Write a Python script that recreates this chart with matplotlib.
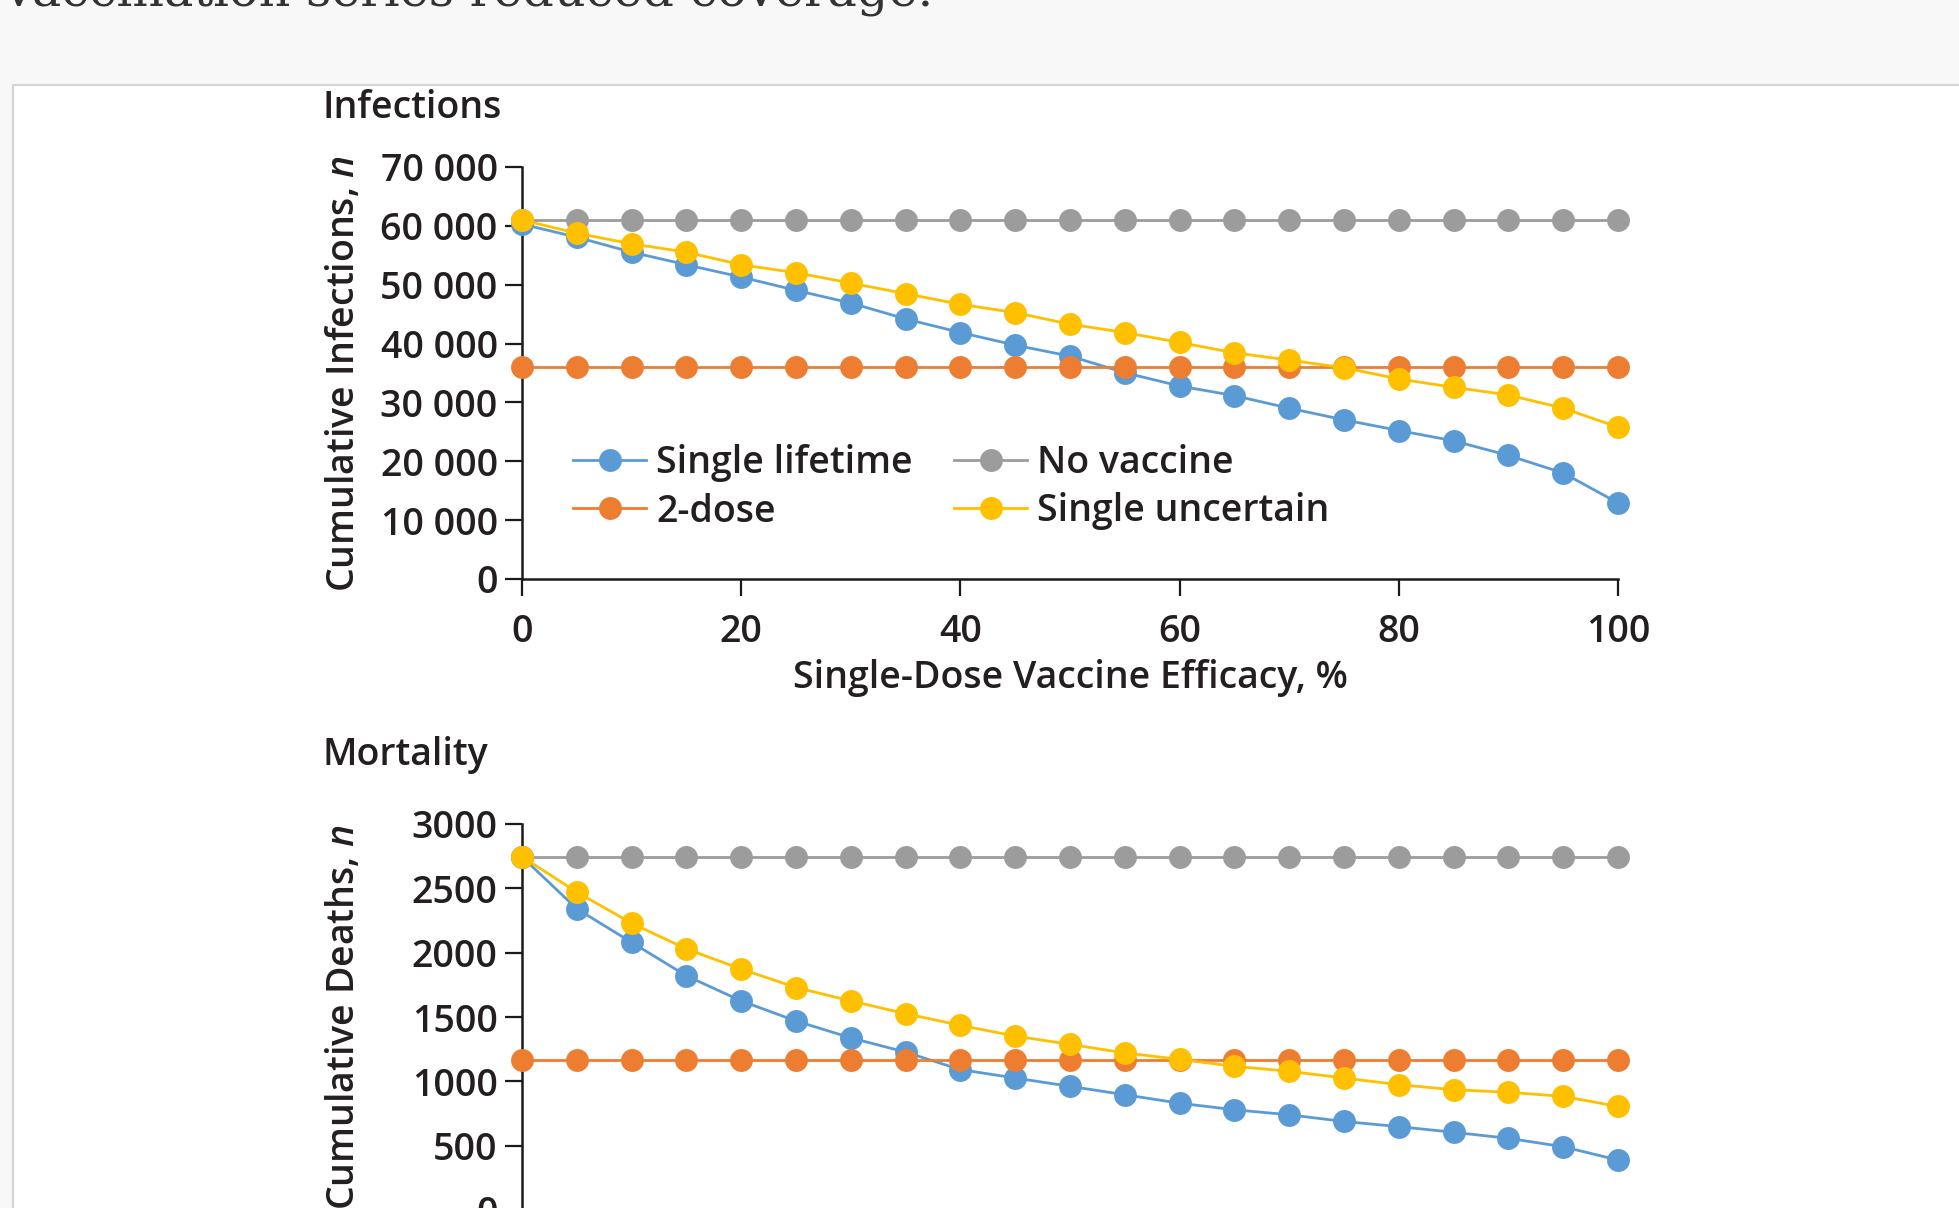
import matplotlib
matplotlib.use("Agg")
import matplotlib.pyplot as plt
import matplotlib.font_manager as fm
from matplotlib.patches import Rectangle

# ---------------- data ----------------
efficacy = [0, 5, 10, 15, 20, 25, 30, 35, 40, 45, 50, 55, 60, 65, 70, 75, 80, 85, 90, 95, 100]

inf_single_lifetime = [60300, 58070, 55530, 53390, 51300, 49040, 46890, 44190, 41880, 39730, 37870,
                       35050, 32790, 31150, 29020, 27040, 25230, 23480, 20990, 18010, 12930]
inf_two_dose = [36000] * 21
inf_no_vaccine = [61000] * 21
inf_single_uncertain = [61000, 58750, 56950, 55530, 53390, 52040, 50280, 48480, 46670, 45260, 43290,
                        41880, 40190, 38430, 37190, 35890, 33980, 32570, 31270, 29020, 25800]

dth_single_lifetime = [2745, 2341, 2080, 1820, 1625, 1469, 1338, 1227, 1091, 1026, 961,
                       896, 830, 779, 740, 688, 648, 604, 557, 492, 388]
dth_two_dose = [1162] * 21
dth_no_vaccine = [2745] * 21
dth_single_uncertain = [2745, 2471, 2229, 2029, 1873, 1729, 1625, 1526, 1435, 1352, 1287,
                        1221, 1170, 1117, 1078, 1026, 974, 935, 915, 883, 805]

series_labels = ["Single lifetime", "2-dose", "No vaccine", "Single uncertain"]
series_colors = ["#5b9bd5", "#ed7d31", "#9c9c9c", "#ffc000"]

x_ticks = [0, 20, 40, 60, 80, 100]
inf_ticks = [0, 10000, 20000, 30000, 40000, 50000, 60000, 70000]
inf_tick_labels = ["0", "10 000", "20 000", "30 000", "40 000", "50 000", "60 000", "70 000"]
dth_ticks = [0, 500, 1000, 1500, 2000, 2500, 3000]
dth_tick_labels = ["0", "500", "1000", "1500", "2000", "2500", "3000"]

page_text = "vaccination series reduced coverage."
title_top = "Infections"
title_bottom = "Mortality"
xlabel = "Single-Dose Vaccine Efficacy, %"
ylabel_top = "Cumulative Infections, $n$"
ylabel_bottom = "Cumulative Deaths, $n$"

# ---------------- style ----------------
avail = {f.name for f in fm.fontManager.ttflist}
SANS = "Open Sans" if "Open Sans" in avail else "DejaVu Sans"
weights = {f.weight for f in fm.fontManager.ttflist if f.name == SANS}
if 600 in weights or "semibold" in weights or "demibold" in weights:
    WEIGHT, FS = 600, 27
else:
    WEIGHT, FS = "normal", 28
plt.rcParams["font.family"] = [SANS, "DejaVu Sans"]
plt.rcParams["font.weight"] = WEIGHT
plt.rcParams["axes.labelweight"] = WEIGHT
plt.rcParams["mathtext.fontset"] = "custom"
plt.rcParams["mathtext.rm"] = SANS
plt.rcParams["mathtext.it"] = SANS + ":italic"

W, H = 1959, 1208
TXT = "#231f20"

fig = plt.figure(figsize=(W / 100, H / 100), dpi=100, facecolor="#f8f8f8")

# card
fig.patches.append(Rectangle((13 / W, -0.05), 1.1, 1 - 85 / H + 0.05, transform=fig.transFigure,
                             facecolor="white", edgecolor="#d5d5d5", lw=1.6, zorder=-10))

fig.text(4 / W, 1 - 5 / H, page_text, family="DejaVu Serif", fontsize=35.5, fontweight="normal",
         va="baseline", ha="left", color="#333333")

def px_axes(left, top, right, bottom):
    return [left / W, 1 - bottom / H, (right - left) / W, (bottom - top) / H]

ax1 = fig.add_axes(px_axes(522, 167, 1618, 579))
ax2 = fig.add_axes(px_axes(522, 824, 1618, 1210))

def style_axes(ax, yticks, ylabels, ylim, ylabel):
    ax.patch.set_visible(False)
    for s in ["top", "right"]:
        ax.spines[s].set_visible(False)
    for s in ["left", "bottom"]:
        ax.spines[s].set_linewidth(1.8)
        ax.spines[s].set_color("#1a1a1a")
    ax.set_xlim(0, 100)
    ax.set_ylim(*ylim)
    ax.set_xticks(x_ticks)
    ax.set_yticks(yticks)
    ax.set_yticklabels(ylabels)
    ax.tick_params(axis="both", direction="out", length=12, width=1.6, color="#1a1a1a",
                   labelsize=FS, labelcolor=TXT)
    ax.tick_params(axis="y", pad=5.5)
    ax.tick_params(axis="x", pad=12.5)
    ax.set_ylabel(ylabel, fontsize=FS, color=TXT)
    ax.yaxis.set_label_coords(-0.145, 0.5)

style_axes(ax1, inf_ticks, inf_tick_labels, (0, 70000), ylabel_top)
style_axes(ax2, dth_ticks, dth_tick_labels, (0, 3000), ylabel_bottom)
ax1.set_xlabel(xlabel, fontsize=FS, color=TXT, labelpad=6)
ax2.tick_params(axis="x", labelbottom=False)

def draw(ax, data):
    handles = []
    zorders = [3, 5, 4, 6]
    for vals, lab, col, z in zip(data, series_labels, series_colors, zorders):
        h, = ax.plot(efficacy, vals, color=col, lw=2.0, marker="o", markersize=16.5,
                     markeredgewidth=0, label=lab, clip_on=False, zorder=z)
        handles.append(h)
    return handles

hs = draw(ax1, [inf_single_lifetime, inf_two_dose, inf_no_vaccine, inf_single_uncertain])
draw(ax2, [dth_single_lifetime, dth_two_dose, dth_no_vaccine, dth_single_uncertain])

fig.legend(handles=hs, labels=series_labels, ncol=2, loc="upper left",
           bbox_to_anchor=(573 / W, 1 - 444 / H), bbox_transform=fig.transFigure,
           frameon=False, fontsize=FS, handlelength=1.95, handletextpad=0.27,
           columnspacing=1.1, labelspacing=0.28, borderpad=0, borderaxespad=0,
           numpoints=1, labelcolor=TXT)

fig.text(322 / W, 1 - 118 / H, title_top, fontsize=FS, color=TXT, va="baseline", ha="left")
fig.text(322 / W, 1 - 765 / H, title_bottom, fontsize=FS, color=TXT, va="baseline", ha="left")

fig.savefig("out.png", dpi=100, facecolor=fig.get_facecolor())
